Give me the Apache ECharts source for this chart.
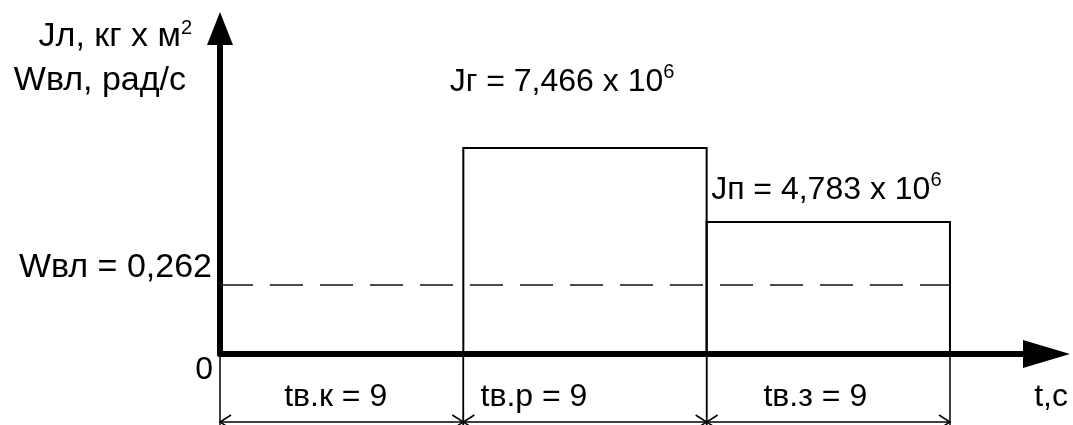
<!DOCTYPE html>
<html>
<head>
<meta charset="utf-8">
<script src="https://cdn.jsdelivr.net/npm/echarts@6/dist/echarts.min.js"></script>
<style>
  html, body { margin: 0; padding: 0; background: #fff; }
  #chart { width: 1073px; height: 425px; }
</style>
</head>
<body>
<div id="chart"></div>
<script>
// Phases of the cycle (t, c)
const phaseNames = ['tв.к', 'tв.р', 'tв.з'];
const phaseDurations = [9, 9, 9];

// Moment of inertia per phase, in units of 10^6 кг·м²
const inertiaNames = ['', 'Jг', 'Jп'];
const inertiaValues = [null, 7.466, 4.783];

// Shaft angular speed, рад/с
const speedName = 'Wвл';
const speedValue = 0.262;

// Axis titles
const yTitleTop = 'Jл, кг х м';
const yTitleTopSup = '2';
const yTitleBottom = 'Wвл, рад/с';
const xTitle = 't,c';

const FONT = '"Liberation Sans", Arial, sans-serif';
const INK = '#000';
const FS = 32;      // captions
const FS_T = 34;    // titles and the speed label
const FS_SUP = 20;  // superscripts

const phaseStarts = [];
let acc = 0;
phaseDurations.forEach(d => { phaseStarts.push(acc); acc += d; });
const totalTime = acc;

const fmt = v => v.toFixed(3).replace('.', ',');

const inertiaData = [];
inertiaValues.forEach((v, i) => {
  if (v != null) inertiaData.push([phaseStarts[i], phaseStarts[i] + phaseDurations[i], v, i]);
});
const phaseData = phaseNames.map((n, i) => [phaseStarts[i], phaseStarts[i] + phaseDurations[i], i]);

// caption offsets in px, per phase
const inertiaLabelShift = [null, [-23, -50], [-2, -16]];
const phaseLabelShift = [-6, -51, -13];

const supRich = {
  m: { fontFamily: FONT, fontSize: FS, lineHeight: 36, color: INK, verticalAlign: 'bottom' },
  s: { fontFamily: FONT, fontSize: FS_SUP, lineHeight: 20, color: INK, verticalAlign: 'top' }
};

function renderInertia(params, api) {
  const t0 = api.value(0), t1 = api.value(1), v = api.value(2), idx = api.value(3);
  const p0 = api.coord([t0, v]);
  const p1 = api.coord([t1, 0]);
  const shift = inertiaLabelShift[idx];
  return {
    type: 'group',
    children: [
      {
        type: 'rect',
        shape: { x: p0[0], y: p0[1], width: p1[0] - p0[0], height: p1[1] - p0[1] },
        style: { fill: 'none', stroke: INK, lineWidth: 2 }
      },
      {
        type: 'text',
        x: (p0[0] + p1[0]) / 2 + shift[0],
        y: p0[1] + shift[1],
        style: {
          text: '{m|' + inertiaNames[idx] + ' = ' + fmt(v) + ' x 10}{s|6}',
          rich: supRich,
          align: 'center',
          verticalAlign: 'bottom'
        }
      }
    ]
  };
}

function renderPhase(params, api) {
  const t0 = api.value(0), t1 = api.value(1), idx = api.value(2);
  const a = api.coord([t0, 0]);
  const b = api.coord([t1, 0]);
  const y0 = a[1];
  const yd = y0 + 68;
  const yEnd = y0 + 80;
  const head = 11, spread = 7;
  const thin = { stroke: INK, lineWidth: 1.5, fill: 'none' };
  return {
    type: 'group',
    children: [
      { type: 'line', shape: { x1: a[0], y1: y0, x2: a[0], y2: yEnd }, style: thin },
      { type: 'line', shape: { x1: b[0], y1: y0, x2: b[0], y2: yEnd }, style: thin },
      { type: 'line', shape: { x1: a[0], y1: yd, x2: b[0], y2: yd }, style: thin },
      { type: 'polyline', shape: { points: [[a[0] + head, yd - spread], [a[0], yd], [a[0] + head, yd + spread]] }, style: thin },
      { type: 'polyline', shape: { points: [[b[0] - head, yd - spread], [b[0], yd], [b[0] - head, yd + spread]] }, style: thin },
      {
        type: 'text',
        x: (a[0] + b[0]) / 2 + phaseLabelShift[idx],
        y: y0 + 43,
        style: {
          text: phaseNames[idx] + ' = ' + phaseDurations[idx],
          fontFamily: FONT, fontSize: FS, fill: INK,
          align: 'center', verticalAlign: 'middle'
        }
      }
    ]
  };
}

const chart = echarts.init(document.getElementById('chart'), null, { renderer: 'canvas' });

chart.setOption({
  animation: false,
  backgroundColor: '#fff',
  grid: { left: 220, right: 26.5, top: 28.5, bottom: 71, outerBoundsMode: 'none' },
  xAxis: {
    type: 'value',
    min: 0,
    max: 30.57,
    name: xTitle,
    nameLocation: 'end',
    nameGap: 21.5,
    nameTextStyle: { fontFamily: FONT, fontSize: FS, color: INK, align: 'right', verticalAlign: 'top', padding: [27, 0, 0, 0] },
    axisLine: {
      show: true,
      symbol: ['none', 'triangle'],
      symbolSize: [28, 47],
      lineStyle: { color: INK, width: 6, cap: 'round' }
    },
    axisTick: { show: false },
    axisLabel: { show: false },
    splitLine: { show: false }
  },
  yAxis: [
    {
      type: 'value',
      min: 0,
      max: 11.8,
      position: 'left',
      name: '{a|' + yTitleTop + '}{s|' + yTitleTopSup + '}\n{b|' + yTitleBottom + '}',
      nameLocation: 'end',
      nameGap: 14,
      nameTextStyle: {
        align: 'right',
        verticalAlign: 'top',
        padding: [0, 28, 0, 0],
        rich: {
          a: { fontFamily: FONT, fontSize: FS_T, lineHeight: 44, color: INK, verticalAlign: 'middle' },
          s: { fontFamily: FONT, fontSize: FS_SUP, lineHeight: 44, color: INK, verticalAlign: 'middle', padding: [0, 0, 16, 0] },
          b: { fontFamily: FONT, fontSize: FS_T, lineHeight: 44, color: INK, padding: [0, 6, 0, 0] }
        }
      },
      axisLine: {
        show: true,
        symbol: ['none', 'triangle'],
        symbolSize: [26, 33],
        lineStyle: { color: INK, width: 6, cap: 'round' }
      },
      axisTick: { show: false },
      splitLine: { show: false },
      axisLabel: {
        customValues: [0],
        formatter: () => '0',
        fontFamily: FONT, fontSize: FS, color: INK,
        verticalAlign: 'top',
        margin: 7
      }
    },
    {
      type: 'value',
      min: 0,
      max: 1.236,
      position: 'left',
      offset: 0,
      axisLine: { show: false },
      axisTick: { show: false },
      splitLine: { show: false },
      axisLabel: {
        customValues: [speedValue],
        formatter: v => speedName + ' = ' + fmt(v),
        fontFamily: FONT, fontSize: FS_T, color: INK,
        verticalAlign: 'bottom',
        margin: 8
      }
    }
  ],
  series: [
    {
      type: 'line',
      name: speedName,
      yAxisIndex: 1,
      data: [[0, speedValue], [totalTime, speedValue]],
      showSymbol: false,
      silent: true,
      lineStyle: { color: '#111', width: 1.5, type: [33, 17] },
      z: 1
    },
    {
      type: 'custom',
      name: 'J',
      renderItem: renderInertia,
      data: inertiaData,
      encode: { x: [0, 1], y: 2 },
      silent: true,
      z: 2
    },
    {
      type: 'custom',
      name: 'phases',
      renderItem: renderPhase,
      data: phaseData,
      encode: { x: [0, 1] },
      clip: false,
      silent: true,
      z: 2
    }
  ]
});
</script>
</body>
</html>
